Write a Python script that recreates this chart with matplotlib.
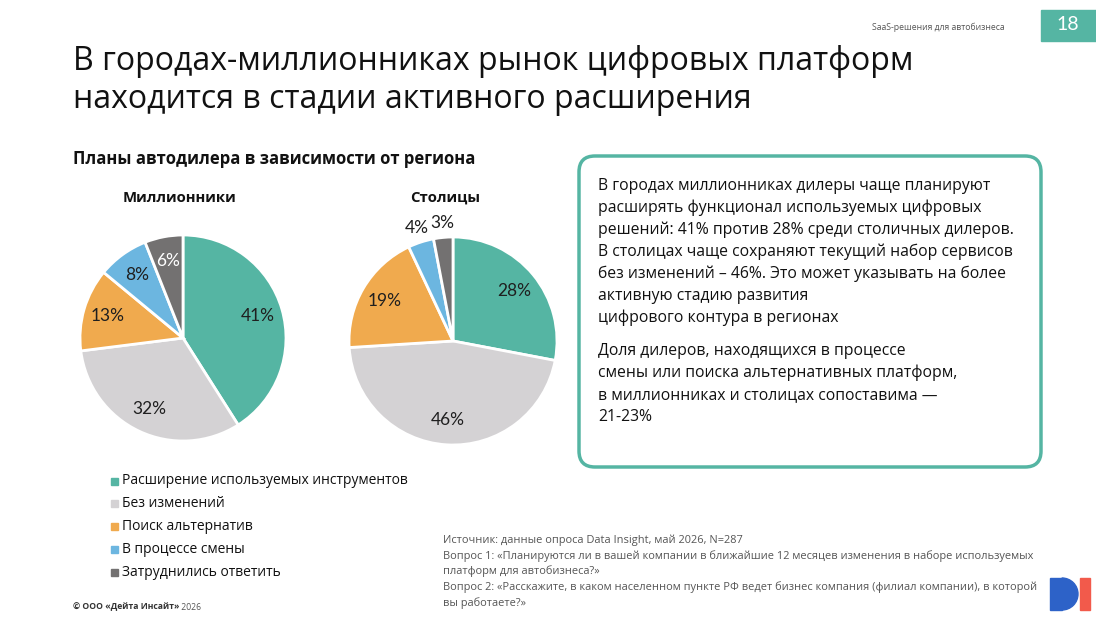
import matplotlib.pyplot as plt
from matplotlib.patches import FancyBboxPatch, Rectangle, Wedge
import numpy as np

# --- Data ---
categories = ['Расширение используемых инструментов', 'Без изменений',
              'Поиск альтернатив', 'В процессе смены', 'Затруднились ответить']
millionniki = [41, 32, 13, 8, 6]
stolitsy = [28, 46, 19, 4, 3]
colors = ['#55B5A3', '#D4D2D4', '#F0AA4E', '#6CB6E0', '#737171']

TEAL = '#55B5A3'
TEXT_FONT = ['Open Sans', 'DejaVu Sans']
PCT_FONT = ['Lato', 'DejaVu Sans']

W, H = 1096, 618
fig = plt.figure(figsize=(W / 100, H / 100), dpi=100)
fig.patch.set_facecolor('white')

# overlay axes in pixel coordinates for all slide text
bg = fig.add_axes([0, 0, 1, 1])
bg.set_xlim(0, W)
bg.set_ylim(H, 0)
bg.axis('off')


def pie_axes(cx, cy, r, pad=1.35):
    size = 2 * r * pad
    ax = fig.add_axes([(cx - size / 2) / W, 1 - (cy + size / 2) / H, size / W, size / H])
    return ax, pad


def draw_pie(cx, cy, r, values, outside_small=False):
    ax, pad = pie_axes(cx, cy, r)
    wedges, texts, autotexts = ax.pie(
        values, colors=colors, startangle=90, counterclock=False,
        autopct='%d%%', pctdistance=0.76,
        wedgeprops=dict(edgecolor='white', linewidth=2),
        textprops=dict(fontsize=12.5, color='#1f1f1f', family=PCT_FONT))
    for w, t, v in zip(wedges, autotexts, values):
        if outside_small and v < 5:
            ang = np.deg2rad((w.theta1 + w.theta2) / 2)
            t.set_position((1.14 * np.cos(ang), 1.14 * np.sin(ang)))
    ax.set_xlim(-pad, pad)
    ax.set_ylim(-pad, pad)
    ax.set_aspect('equal')
    return autotexts


a1 = draw_pie(183, 338, 103, millionniki)
a1[4].set_color('white')
draw_pie(453, 341, 104, stolitsy, outside_small=True)

# --- header ---
bg.text(73, 61, 'В городах-миллионниках рынок цифровых платформ', fontsize=23,
        family=TEXT_FONT, va='center', color='#111111')
bg.text(73, 99, 'находится в стадии активного расширения', fontsize=23,
        family=TEXT_FONT, va='center', color='#111111')
bg.text(1005, 27, 'SaaS-решения для автобизнеса', fontsize=6.2, family=TEXT_FONT,
        ha='right', va='center', color='#555555')
bg.add_patch(Rectangle((1041, 10), 55, 31, color=TEAL))
bg.text(1068, 25, '18', fontsize=14, color='white', ha='center', va='center', family=PCT_FONT)

# --- chart titles ---
bg.text(73, 159, 'Планы автодилера в зависимости от региона', fontsize=12,
        fontweight='bold', family=TEXT_FONT, va='center', color='#111111')
bg.text(180, 198, 'Миллионники', fontsize=10.7, fontweight='bold', family=TEXT_FONT,
        ha='center', va='center', color='#111111')
bg.text(445, 198, 'Столицы', fontsize=10.7, fontweight='bold', family=TEXT_FONT,
        ha='center', va='center', color='#111111')

# --- legend ---
for i, (lab, c) in enumerate(zip(categories, colors)):
    y = 481 + i * 22.8
    bg.add_patch(Rectangle((111, y - 3.5), 7, 7, color=c))
    bg.text(122, y, lab, fontsize=10, family=TEXT_FONT, va='center', color='#111111')

# --- comment box ---
bg.add_patch(FancyBboxPatch((593, 170), 434, 283, boxstyle='round,pad=14,rounding_size=16',
                            facecolor='white', edgecolor=TEAL, linewidth=2.5))
box_lines_1 = ['В городах миллионниках дилеры чаще планируют',
               'расширять функционал используемых цифровых',
               'решений: 41% против 28% среди столичных дилеров.',
               'В столицах чаще сохраняют текущий набор сервисов',
               'без изменений – 46%. Это может указывать на более',
               'активную стадию развития',
               'цифрового контура в регионах']
box_lines_2 = ['Доля дилеров, находящихся в процессе',
               'смены или поиска альтернативных платформ,',
               'в миллионниках и столицах сопоставима —',
               '21-23%']
for i, line in enumerate(box_lines_1):
    bg.text(598, 186 + i * 22, line, fontsize=11.3, family=TEXT_FONT, va='center', color='#111111')
for i, line in enumerate(box_lines_2):
    bg.text(598, 351 + i * 22, line, fontsize=11.3, family=TEXT_FONT, va='center', color='#111111')

# --- source ---
source_lines = ['Источник: данные опроса Data Insight, май 2026, N=287',
                'Вопрос 1: «Планируются ли в вашей компании в ближайшие 12 месяцев изменения в наборе используемых',
                'платформ для автобизнеса?»',
                'Вопрос 2: «Расскажите, в каком населенном пункте РФ ведет бизнес компания (филиал компании), в которой',
                'вы работаете?»']
for i, line in enumerate(source_lines):
    bg.text(443, 540 + i * 15.8, line, fontsize=7.9, family=TEXT_FONT, va='center', color='#555555')

copy_txt = bg.text(73, 607, '© ООО «Дейта Инсайт»', fontsize=6.2, family=TEXT_FONT,
                   fontweight='bold', va='center', color='#333333')
bg.annotate(' 2026', xy=(1, 0.5), xycoords=copy_txt, fontsize=6.2, family=TEXT_FONT,
            va='center', ha='left', color='#555555')

# --- logo ---
bg.add_patch(Rectangle((1050, 578), 12, 32, color='#2D62C8'))
bg.add_patch(Wedge((1062, 594), 16, 270, 90, color='#2D62C8'))
bg.add_patch(Rectangle((1080, 578), 10, 32, color='#F25A4B'))

fig.savefig('out.png', dpi=100, facecolor='white')
